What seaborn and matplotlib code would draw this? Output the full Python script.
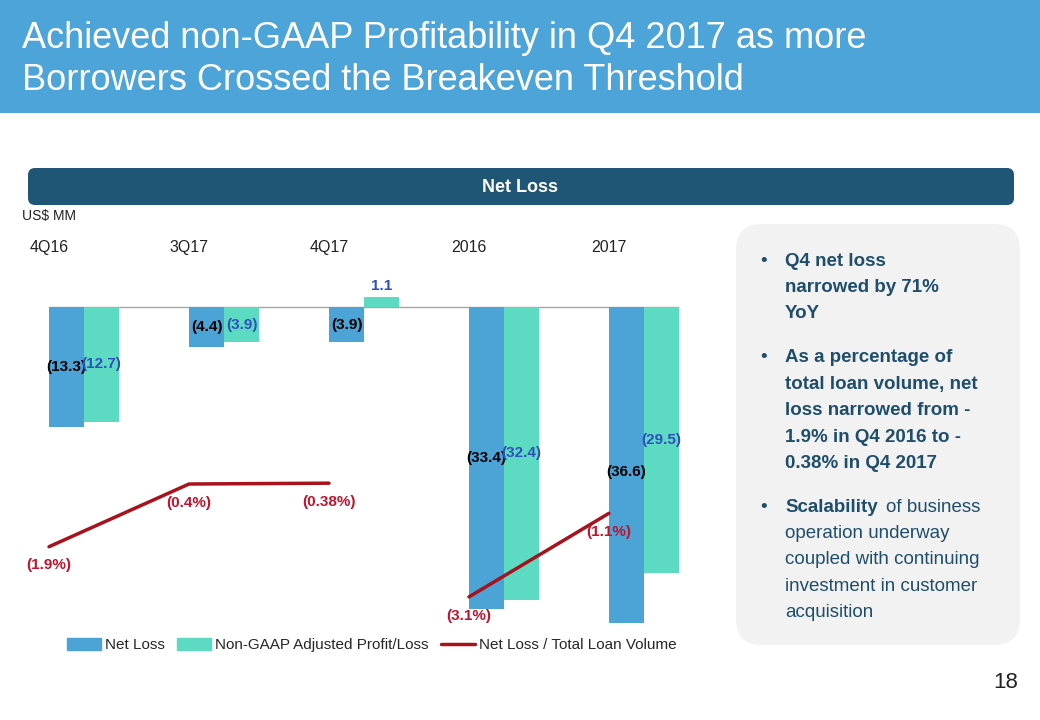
import matplotlib
matplotlib.use("Agg")
import matplotlib.pyplot as plt
import seaborn as sns
import pandas as pd
from matplotlib.patches import Rectangle, FancyBboxPatch, Patch
from matplotlib.lines import Line2D

sns.set_style("white")
plt.rcParams["font.family"] = ["Liberation Sans", "DejaVu Sans"]

# Data
periods = ["4Q16", "3Q17", "4Q17", "2016", "2017"]
net_loss = [-13.3, -4.4, -3.9, -33.4, -36.6]
non_gaap = [-12.7, -3.9, 1.1, -32.4, -29.5]
loss_ratio = [-1.9, -0.4, -0.38, -3.1, -1.1]
ratio_labels = ["(1.9%)", "(0.4%)", "(0.38%)", "(3.1%)", "(1.1%)"]
quarter_idx = [0, 1, 2]
year_idx = [3, 4]

series_names = ["Net Loss", "Non-GAAP Adjusted Profit/Loss"]
line_name = "Net Loss / Total Loan Volume"

BLUE = "#4BA3D6"
TEAL = "#5CDBC2"
RED = "#A8121C"
RED_TXT = "#C0142E"
LBL_BLUE = "#2F4FBF"
NAVY = "#1F5675"
HEAD = "#4CA4D8"
PANEL_TXT = "#1F4E6B"

df = pd.DataFrame({
    "period": periods * 2,
    "value": net_loss + non_gaap,
    "series": [series_names[0]] * len(periods) + [series_names[1]] * len(periods),
})


def fmt(v):
    return "({:.1f})".format(-v) if v < 0 else "{:.1f}".format(v)


fig = plt.figure(figsize=(10.4, 7.2), dpi=100)

# background layer in pixel units
bg = fig.add_axes([0, 0, 1, 1], zorder=0)
bg.set_xlim(0, 1040)
bg.set_ylim(720, 0)
bg.axis("off")

bg.add_patch(Rectangle((0, 0), 1040, 113, color=HEAD, lw=0))
bg.text(22, 38, "Achieved non-GAAP Profitability in Q4 2017 as more",
        color="white", fontsize=26, va="center", ha="left")
bg.text(22, 80, "Borrowers Crossed the Breakeven Threshold",
        color="white", fontsize=26, va="center", ha="left")

bg.add_patch(FancyBboxPatch((28, 168), 986, 37, boxstyle="round,pad=0,rounding_size=7",
                            color=NAVY, lw=0))
bg.text(520, 188, "Net Loss", color="white", fontsize=13, fontweight="bold",
        ha="center", va="center")
bg.text(22, 216, "US$ MM", color="#222222", fontsize=10, ha="left", va="center")

bg.add_patch(FancyBboxPatch((736, 224), 284, 421, boxstyle="round,pad=0,rounding_size=26",
                            color="#F2F2F2", lw=0))

FS = 13.5
bullets = [
    (["Q4 net loss", "narrowed by 71%", "YoY"], 261, "bold"),
    (["As a percentage of", "total loan volume, net", "loss narrowed from -",
      "1.9% in Q4 2016 to -", "0.38% in Q4 2017"], 358, "bold"),
    (["of business", "operation underway", "coupled with continuing",
      "investment in customer", "acquisition"], 507, "normal"),
]
for lines, y0, w in bullets:
    bg.text(760, y0, "\u2022", color=PANEL_TXT, fontsize=FS, va="center", ha="left")
    for k, ln in enumerate(lines):
        if k == 0 and w == "normal":
            continue
        bg.text(785, y0 + k * 26.4, ln, color=PANEL_TXT, fontsize=FS, fontweight=w,
                va="center", ha="left")

sc = bg.text(785, 507, "Scalability", color=PANEL_TXT, fontsize=FS, fontweight="bold",
             va="center", ha="left")
fig.canvas.draw()
ext = sc.get_window_extent()
bg.text(ext.x1 + 8, 507, "of business", color=PANEL_TXT, fontsize=FS,
        va="center", ha="left")

bg.text(1018, 682, "18", color="#222222", fontsize=16, ha="right", va="center")

# chart
ax = fig.add_axes([22 / 1040, 1 - 623 / 720, 698 / 1040, 388 / 720], zorder=1)
ax.set_facecolor("none")
sns.barplot(data=df, x="period", y="value", hue="series", order=periods,
            hue_order=series_names, palette=[BLUE, TEAL], width=0.5,
            saturation=1, legend=False, linewidth=0, ax=ax, zorder=2)
ax.hlines(0, -0.25, len(periods) - 0.75, color="#A6A6A6", lw=1, zorder=1)

for i, (a, b) in enumerate(zip(net_loss, non_gaap)):
    ax.text(i - 0.125, a / 2, fmt(a), ha="center", va="center", fontsize=11,
            fontweight="bold", color="black", zorder=4)
    if b < 0:
        ax.text(i + 0.125, b / 2, fmt(b), ha="center", va="center", fontsize=11,
                fontweight="bold", color=LBL_BLUE, zorder=4)
    else:
        ax.annotate(fmt(b), (i + 0.125, b), xytext=(0, 8), textcoords="offset points",
                    ha="center", va="center", fontsize=11, fontweight="bold",
                    color=LBL_BLUE, zorder=4)

ax.set_ylim(-35.0, 7.97)
ax.set_xlim(-0.443, 4.543)
ax.axis("off")

ax2 = ax.twinx()
ax2.set_zorder(2)
for idx in (quarter_idx, year_idx):
    sns.lineplot(x=[i - 0.25 for i in idx], y=[loss_ratio[i] for i in idx],
                 color=RED, lw=2.5, ax=ax2)
for i, (v, t) in enumerate(zip(loss_ratio, ratio_labels)):
    ax2.annotate(t, (i - 0.25, v), xytext=(0, -13.5), textcoords="offset points",
                 ha="center", va="center", fontsize=11, fontweight="bold", color=RED_TXT)
ax2.set_ylim(-3.725, 5.557)
ax2.set_xlim(-0.443, 4.543)
ax2.axis("off")

for i, p in enumerate(periods):
    ax.text(i - 0.25, 0.969, p, transform=ax.get_xaxis_transform(), ha="center",
            va="center", fontsize=11.5, color="#222222")

handles = [Patch(color=BLUE), Patch(color=TEAL), Line2D([], [], color=RED, lw=2.5)]
fig.legend(handles, series_names + [line_name], loc="center",
           bbox_to_anchor=(372 / 1040, 1 - 645 / 720), ncol=3, frameon=False,
           fontsize=11, handlelength=2.2, handleheight=0.8, handletextpad=0.3,
           columnspacing=0.8)

fig.savefig("out.png", dpi=100)
